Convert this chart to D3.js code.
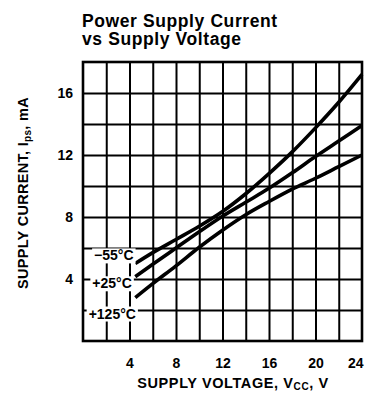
<!DOCTYPE html>
<html>
<head>
<meta charset="utf-8">
<script src="https://cdn.jsdelivr.net/npm/d3@7"></script>
<style>
  body { margin: 0; background: #fff; }
  svg { display: block; }
  text { font-family: "Liberation Sans", Arial, Helvetica, sans-serif; font-weight: bold; fill: #000; }
</style>
</head>
<body>
<svg id="chart" width="368" height="404"></svg>
<script>
// Supply voltage (V) at which each current reading is taken
const voltage = [4.5, 6, 8, 10, 12, 14, 16, 18, 20, 22, 24];
// Supply current (mA) for each ambient temperature
const currentMinus55 = [5.0, 5.7, 6.55, 7.4, 8.35, 9.5, 10.8, 12.2, 13.75, 15.4, 17.2];
const currentPlus25 = [4.15, 4.95, 6.0, 7.05, 8.05, 8.95, 9.85, 10.85, 11.9, 12.9, 13.9];
const currentPlus125 = [2.8, 3.7, 4.85, 6.05, 7.15, 8.15, 9.0, 9.8, 10.5, 11.25, 12.0];
const temperatureLabels = ["\u221255\u00b0C", "+25\u00b0C", "+125\u00b0C"];
const xTickValues = [4, 8, 12, 16, 20, 24];
const yTickValues = [4, 8, 12, 16];

const svg = d3.select("#chart");
const plotLeft = 83, plotRight = 362, plotTop = 62, plotBottom = 341;

const x = d3.scaleLinear().domain([0, 24]).range([plotLeft, plotRight]);
const y = d3.scaleLinear().domain([0, 18]).range([plotBottom, plotTop]);

svg.append("rect").attr("width", 368).attr("height", 404).attr("fill", "#fff");

// Title
svg.append("text").attr("x", 82).attr("y", 27)
  .attr("font-size", 17.5).attr("letter-spacing", 0.6)
  .text("Power Supply Current");
svg.append("text").attr("x", 82).attr("y", 45)
  .attr("font-size", 17.5).attr("letter-spacing", 0.6)
  .text("vs Supply Voltage");

// Grid: every 2 V and every 2 mA
const vGrid = svg.append("g")
  .attr("transform", `translate(0,${plotBottom})`)
  .call(d3.axisBottom(x).tickValues(d3.range(2, 24, 2)).tickSize(-(plotBottom - plotTop)).tickFormat(""));
vGrid.select(".domain").remove();
vGrid.selectAll("line").attr("stroke", "#000").attr("stroke-width", 2);

const hGrid = svg.append("g")
  .attr("transform", `translate(${plotLeft},0)`)
  .call(d3.axisLeft(y).tickValues(d3.range(2, 18, 2)).tickSize(-(plotRight - plotLeft)).tickFormat(""));
hGrid.select(".domain").remove();
hGrid.selectAll("line").attr("stroke", "#000").attr("stroke-width", 2);

// Frame
svg.append("rect")
  .attr("x", plotLeft).attr("y", plotTop)
  .attr("width", plotRight - plotLeft).attr("height", plotBottom - plotTop)
  .attr("fill", "none").attr("stroke", "#000").attr("stroke-width", 2.6);

// Tick labels
const yAxis = svg.append("g")
  .attr("transform", `translate(${plotLeft},0)`)
  .call(d3.axisLeft(y).tickValues(yTickValues).tickSize(0).tickPadding(10).tickFormat(d3.format("d")));
yAxis.select(".domain").remove();
yAxis.selectAll("text").attr("font-size", 14).attr("font-family", null).attr("fill", "#000");

const xAxis = svg.append("g")
  .attr("transform", `translate(0,${plotBottom})`)
  .call(d3.axisBottom(x).tickValues(xTickValues).tickSize(0).tickPadding(17).tickFormat(d3.format("d")));
xAxis.select(".domain").remove();
xAxis.selectAll("text").attr("font-size", 14).attr("font-family", null).attr("fill", "#000");
xAxis.selectAll(".tick").filter(d => d === 24).select("text")
  .attr("text-anchor", "end").attr("x", 1);

// Axis titles
const xTitle = svg.append("text").attr("x", 233).attr("y", 388)
  .attr("text-anchor", "middle").attr("font-size", 14.5).attr("letter-spacing", 0.6);
xTitle.append("tspan").text("SUPPLY VOLTAGE, V");
xTitle.append("tspan").attr("font-size", 10).attr("dy", 2).text("CC");
xTitle.append("tspan").attr("dy", -2).text(", V");

const yTitle = svg.append("text")
  .attr("transform", "translate(28,193) rotate(-90)")
  .attr("text-anchor", "middle").attr("font-size", 14.5).attr("letter-spacing", 0.3);
yTitle.append("tspan").text("SUPPLY CURRENT, I");
yTitle.append("tspan").attr("font-size", 10).attr("dy", 3).text("ps");
yTitle.append("tspan").attr("dy", -3).text(", mA");

// Temperature curves
const series = [currentMinus55, currentPlus25, currentPlus125];
const line = d3.line()
  .x((d, i) => x(voltage[i]))
  .y(d => y(d))
  .curve(d3.curveMonotoneX);

svg.append("g").selectAll("path")
  .data(series)
  .join("path")
  .attr("d", line)
  .attr("fill", "none")
  .attr("stroke", "#000")
  .attr("stroke-width", 3.6);

// Curve labels sit left of the curve starts on a white knockout
const labelAnchors = [[4.35, 5.2], [4.2, 3.4], [4.55, 1.45]];
const labelGroup = svg.append("g");
temperatureLabels.forEach((txt, i) => {
  const g = labelGroup.append("g");
  const bg = g.append("rect").attr("fill", "#fff");
  const t = g.append("text")
    .attr("x", x(labelAnchors[i][0]))
    .attr("y", y(labelAnchors[i][1]))
    .attr("text-anchor", "end")
    .attr("font-size", 14)
    .text(txt);
  const b = t.node().getBBox();
  bg.attr("x", b.x - 2).attr("y", b.y + 1).attr("width", b.width + 4).attr("height", b.height - 1);
});
</script>
</body>
</html>
